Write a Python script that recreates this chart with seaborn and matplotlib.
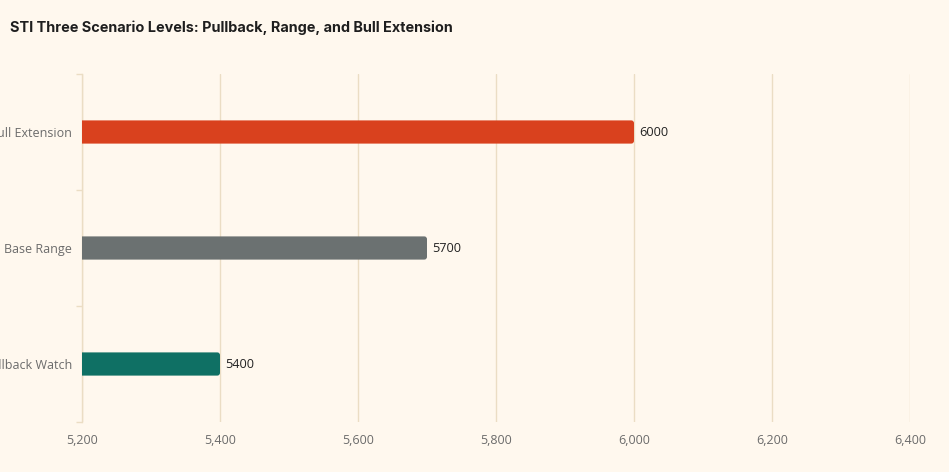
import matplotlib
matplotlib.use("Agg")
import matplotlib.pyplot as plt
import seaborn as sns
import pandas as pd
from matplotlib.ticker import FuncFormatter, FixedLocator
from matplotlib.patches import FancyBboxPatch

scenarios = ["Bull Extension", "Base Range", "Pullback Watch"]
levels = [6000, 5700, 5400]
colors = ["#D9411E", "#6B7171", "#0F7064"]
x_ticks = [5200, 5400, 5600, 5800, 6000, 6200, 6400]

df = pd.DataFrame({"scenario": scenarios, "level": levels})

bg = "#FFF8EE"
grid_c = "#EBDDC4"
sns.set_theme(style="white")
plt.rcParams["font.family"] = ["Open Sans", "DejaVu Sans"]

fig = plt.figure(figsize=(9.49, 4.72), dpi=100, facecolor=bg)
ax = fig.add_axes([82/949, 1-422/472, (910-82)/949, (422-74)/472])
ax.set_facecolor(bg)

sns.barplot(data=df, x="level", y="scenario", hue="scenario", palette=colors,
            order=scenarios, hue_order=scenarios, width=0.2, legend=False, ax=ax,
            saturation=1)

ax.set_xlim(5200, 6400)
ax.set_ylim(2.5, -0.5)

# round bar corners
aspect = (3 / 348) / (1200 / 828)
for p in list(ax.patches):
    x0, y0 = p.get_x(), p.get_y()
    w, h = p.get_width(), p.get_height()
    fc = p.get_facecolor()
    p.remove()
    rp = FancyBboxPatch((x0, y0), w, h,
                        boxstyle="round,pad=0,rounding_size=4",
                        mutation_aspect=aspect,
                        facecolor=fc, edgecolor="none", zorder=3)
    ax.add_patch(rp)

for i, v in enumerate(levels):
    ax.text(v + 7, i, f"{v}", va="center", ha="left", fontsize=9.2, color="#222222", zorder=4)

ax.xaxis.set_major_locator(FixedLocator(x_ticks))
ax.xaxis.set_major_formatter(FuncFormatter(lambda v, p: f"{int(v):,}"))
ax.grid(axis="x", color=grid_c, linewidth=1, zorder=0)
ax.set_axisbelow(True)
ax.tick_params(axis="x", length=0, pad=9, labelsize=9, labelcolor="#6B6B6B")
ax.tick_params(axis="y", length=0, pad=7, labelsize=9, labelcolor="#6B6B6B")
ax.yaxis.set_minor_locator(FixedLocator([-0.5, 0.5, 1.5, 2.5]))
ax.tick_params(axis="y", which="minor", left=True, length=4, color=grid_c, width=1)
ax.set_xlabel("")
ax.set_ylabel("")
for s in ["top", "right", "bottom"]:
    ax.spines[s].set_visible(False)
ax.spines["left"].set_color(grid_c)
ax.spines["left"].set_linewidth(1)

fig.text(10/949, 1-28/472, "STI Three Scenario Levels: Pullback, Range, and Bull Extension",
         fontsize=10.4, fontweight="bold", color="#1E1E1E", va="center", ha="left",
         family=["Inter", "DejaVu Sans"])

fig.savefig("out.png", dpi=100, facecolor=bg)
